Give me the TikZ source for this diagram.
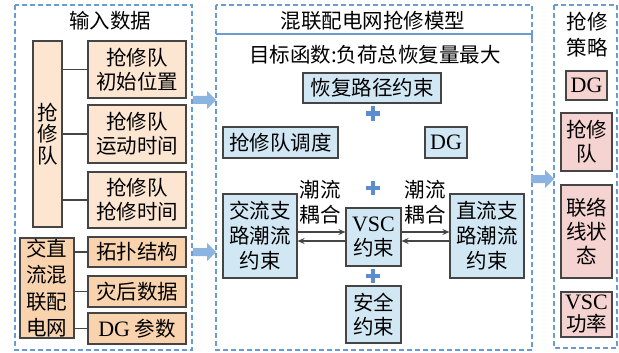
\documentclass[tikz,border=0pt]{standalone}
\usepackage{fontspec}
\setmainfont{Liberation Serif}
\newfontfamily\cjk{Noto Sans CJK SC}
\newfontfamily\lat{Liberation Serif}
\newcommand{\ltx}[1]{{\lat\fontsize{22}{24}\selectfont #1}}
\usetikzlibrary{arrows.meta,calc}
\definecolor{dashblue}{HTML}{6A9BD1}
\definecolor{arrblue}{HTML}{8CB4E0}
\definecolor{plusblue}{HTML}{5B8ED0}
\definecolor{orgA}{HTML}{FCE6D2}
\definecolor{orgB}{HTML}{F8D3AE}
\definecolor{bluefill}{HTML}{D2E7F4}
\definecolor{pinkfill}{HTML}{F4D3D1}
\definecolor{edge}{HTML}{454545}
\tikzset{
  panel/.style={draw=dashblue, line width=1.2pt, dash pattern=on 5pt off 3pt},
  bx/.style={draw=edge, line width=1.1pt, inner sep=0pt, align=center,
    font=\cjk\fontsize{20.5}{24}\selectfont},
  obox/.style={bx, fill=orgA},
  obox2/.style={bx, fill=orgB},
  bbox/.style={bx, fill=bluefill},
  pbox/.style={bx, fill=pinkfill},
  txt/.style={inner sep=0pt, align=center, font=\cjk\fontsize{20.5}{25}\selectfont},
  conn/.style={draw=edge, line width=1.1pt},
  flow/.style={draw=edge, line width=1.1pt, -{Stealth[length=7pt,width=6pt]}},
  bigarrow/.style={fill=arrblue, draw=none},
  plus/.style={draw=plusblue, line width=4.5pt}
}
\begin{document}
\begin{tikzpicture}[x=1pt,y=-1pt]
\useasboundingbox (0,0) rectangle (619,353);
% panels
\draw[panel] (15,5) rectangle (192,350);
\draw[panel] (216,5) rectangle (532,350);
\draw[panel] (554,5) rectangle (617,348);
\draw[draw=dashblue, line width=1.1pt] (216,34) -- (532,34);
\draw[draw=dashblue, line width=1.1pt] (532,30) -- (532,38);
% left panel
\node[txt] (t1) at (110,21) {输入数据};
\node[obox, minimum width=29pt, minimum height=186pt, font=\cjk\fontsize{20.5}{21.5}\selectfont] (team) at (47.5,134) {抢\\修\\队};
\node[obox, minimum width=98pt, minimum height=57pt] (b1) at (137,69.5) {抢修队\\初始位置};
\node[obox, minimum width=98pt, minimum height=58pt] (b2) at (137,134) {抢修队\\运动时间};
\node[obox, minimum width=98pt, minimum height=56pt] (b3) at (137,200) {抢修队\\抢修时间};
\draw[conn] (team.east |- b1.west) -- (b1.west);
\draw[conn] (team.east |- b2.west) -- (b2.west);
\draw[conn] (team.east |- b3.west) -- (b3.west);
\node[obox2, minimum width=54pt, minimum height=100pt, font=\cjk\fontsize{20.5}{26.5}\selectfont] (grid) at (47,288) {交直\\流混\\联配\\电网};
\node[obox2, minimum width=98pt, minimum height=30pt] (c1) at (137,252) {拓扑结构};
\node[obox2, minimum width=98pt, minimum height=31pt] (c2) at (137,291.5) {灾后数据};
\node[obox2, minimum width=98pt, minimum height=31pt] (c3) at (137,328.5) {\ltx{DG} 参数};
\draw[conn] (grid.east |- c1.west) -- (c1.west);
\draw[conn] (grid.east |- c2.west) -- (c2.west);
\draw[conn] (grid.east |- c3.west) -- (c3.west);
% middle panel
\node[txt] (t2) at (373,21) {混联配电网抢修模型};
\node[txt] (obj) at (375,55) {目标函数:负荷总恢复量最大};
\node[bbox, minimum width=138pt, minimum height=30pt] (path) at (372,88) {恢复路径约束};
\node[bbox, minimum width=115pt, minimum height=31pt] (disp) at (280.5,142.5) {抢修队调度};
\node[bbox, minimum width=42pt, minimum height=31pt] (dg) at (446,142.5) {\ltx{DG}};
\node[bbox, minimum width=74pt, minimum height=84pt, font=\cjk\fontsize{20.5}{25}\selectfont] (ac) at (260,236) {交流支\\路潮流\\约束};
\node[bbox, minimum width=55pt, minimum height=58pt] (vsc) at (373.5,237) {\ltx{VSC}\\约束};
\node[bbox, minimum width=74pt, minimum height=84pt, font=\cjk\fontsize{20.5}{25}\selectfont] (dc) at (487,236) {直流支\\路潮流\\约束};
\node[bbox, minimum width=55pt, minimum height=57pt] (safe) at (373.5,314.5) {安全\\约束};
\draw[flow] (ac.east |- 0,232) -- (vsc.west |- 0,232);
\draw[flow] (vsc.west |- 0,241) -- (ac.east |- 0,241);
\draw[flow] (vsc.east |- 0,232) -- (dc.west |- 0,232);
\draw[flow] (dc.west |- 0,241) -- (vsc.east |- 0,241);
\node[txt] (l1) at (320,202.5) {潮流\\耦合};
\node[txt] (l2) at (425,202.5) {潮流\\耦合};
% plus signs
\foreach \py/\nm in {113.5/p1,188/p2,276/p3}{
  \coordinate (\nm) at (373,\py);
  \draw[plus] ($(\nm)+(-7,0)$) -- ($(\nm)+(7,0)$);
  \draw[plus] ($(\nm)+(0,-7)$) -- ($(\nm)+(0,7)$);
}
% right panel
\node[txt, font=\cjk\fontsize{20.5}{26}\selectfont] (t3) at (587,35) {抢修\\策略};
\node[pbox, minimum width=41pt, minimum height=29pt] (r1) at (586.5,85.5) {\ltx{DG}};
\node[pbox, minimum width=51pt, minimum height=58pt] (r2) at (586.5,142) {抢修\\队};
\node[pbox, minimum width=51pt, minimum height=93pt] (r3) at (586.5,231.5) {联络\\线状\\态};
\node[pbox, minimum width=51pt, minimum height=45pt, font=\cjk\fontsize{20.5}{22}\selectfont] (r4) at (586.5,314.5) {\ltx{VSC}\\功率};
% big arrows
\foreach \ax/\ay in {193/100, 193/252, 531/179}{
  \fill[bigarrow] (\ax,\ay-4) -- (\ax+14,\ay-4) -- (\ax+14,\ay-9) -- (\ax+23,\ay) -- (\ax+14,\ay+9) -- (\ax+14,\ay+4) -- (\ax,\ay+4) -- cycle;
}
\end{tikzpicture}
\end{document}
